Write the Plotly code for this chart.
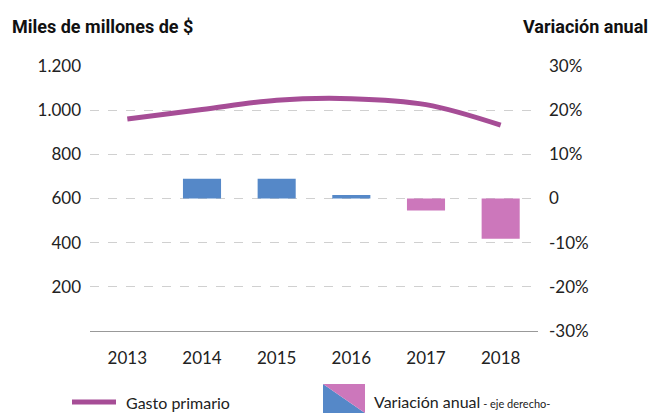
import plotly.graph_objects as go

years = ["2013", "2014", "2015", "2016", "2017", "2018"]
gasto_primario = [960, 1003, 1045, 1052, 1025, 932]
variacion_anual = [None, 4.5, 4.5, 0.8, -2.7, -9.1]

left_ticks = [200, 400, 600, 800, 1000, 1200]
left_labels = ["200", "400", "600", "800", "1.000", "1.200"]
right_ticks = [-30, -20, -10, 0, 10, 20, 30]
right_labels = ["-30%", "-20%", "-10%", "0", "10%", "20%", "30%"]

BLUE = "#5588C8"
PINK = "#CC77BB"
LINE = "#A64D96"
FONT = "Lato, Roboto, sans-serif"
TITLE_FONT = "Roboto, Lato, sans-serif"

bar_colors = [BLUE if (v is not None and v >= 0) else PINK for v in variacion_anual]

fig = go.Figure()
fig.add_trace(go.Bar(x=years, y=variacion_anual, yaxis="y2", marker=dict(color=bar_colors, line=dict(width=0)),
                     width=0.51, showlegend=False))
fig.add_trace(go.Scatter(x=years, y=gasto_primario, yaxis="y", mode="lines",
                         line=dict(color=LINE, width=5, shape="spline", smoothing=1.0), showlegend=False))

fig.update_layout(
    width=662, height=414,
    margin=dict(l=90, r=124, t=66, b=83),
    paper_bgcolor="white", plot_bgcolor="white",
    font=dict(family=FONT, size=16, color="#222"),
    xaxis=dict(type="category", showgrid=False, showline=True, linecolor="#999", linewidth=1,
               ticks="", tickfont=dict(size=17, color="#222"), ticklabelstandoff=12),
    yaxis=dict(range=[0, 1200], tickvals=left_ticks, ticktext=left_labels, showgrid=False,
               zeroline=False, ticks="", tickfont=dict(size=17, color="#222"), ticklabelstandoff=8),
    yaxis2=dict(range=[-30, 30], overlaying="y", side="right", tickvals=right_ticks, ticktext=right_labels,
                showgrid=True, gridcolor="#d0d0d0", griddash="dash", gridwidth=1, zeroline=False,
                ticks="", tickfont=dict(size=17, color="#222"), ticklabelstandoff=10),
)

# Legend drawn manually
fig.add_shape(type="line", xref="paper", yref="paper", x0=(72 - 90) / 448, x1=(116 - 90) / 448,
              y0=(331 - 402) / 265, y1=(331 - 402) / 265, line=dict(color=LINE, width=5))
x0, x1 = (323 - 90) / 448, (365 - 90) / 448
yt, yb = (331 - 384) / 265, (331 - 413) / 265
fig.add_shape(type="path", xref="paper", yref="paper",
              path=f"M {x0} {yt} L {x0} {yb} L {x1} {yb} Z", fillcolor=BLUE, line=dict(width=0))
fig.add_shape(type="path", xref="paper", yref="paper",
              path=f"M {x0} {yt} L {x1} {yt} L {x1} {yb} Z", fillcolor=PINK, line=dict(width=0))

fig.add_annotation(xref="paper", yref="paper", x=(124 - 90) / 448, y=(331 - 402) / 265, xanchor="left",
                   yanchor="middle", text="Gasto primario", showarrow=False, font=dict(size=16, color="#222"))
fig.add_annotation(xref="paper", yref="paper", x=(372 - 90) / 448, y=(331 - 401) / 265, xanchor="left",
                   yanchor="middle", text="Variación anual<span style='font-size:11px'> - eje derecho-</span>",
                   showarrow=False, font=dict(size=16, color="#222"))

# Axis titles
fig.add_annotation(xref="paper", yref="paper", x=(10 - 90) / 448, y=(331 - 26) / 265, xanchor="left",
                   yanchor="middle", text="<b>Miles de millones de $</b>", showarrow=False,
                   font=dict(family=TITLE_FONT, size=18, color="#111"))
fig.add_annotation(xref="paper", yref="paper", x=(650 - 90) / 448, y=(331 - 26) / 265, xanchor="right",
                   yanchor="middle", text="<b>Variación anual</b>", showarrow=False,
                   font=dict(family=TITLE_FONT, size=18, color="#111"))

fig.write_html("out.html", config={"displayModeBar": False},
               post_script="document.body.style.margin='0';document.body.style.overflow='hidden';")
